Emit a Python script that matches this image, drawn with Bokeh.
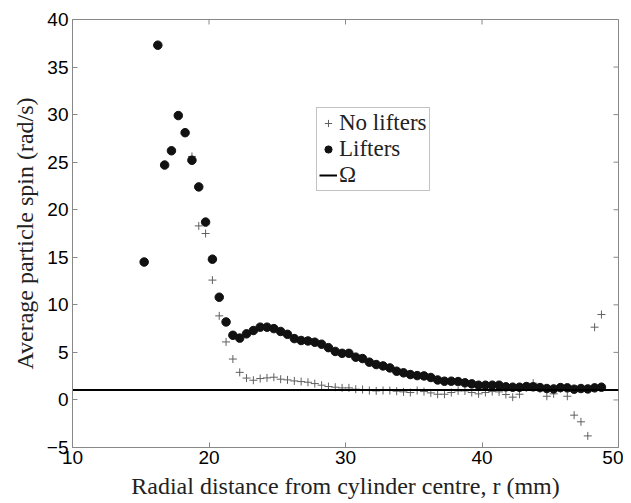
import math
from bokeh.plotting import figure
from bokeh.models import FixedTicker, Legend, LegendItem, Range1d
from bokeh.embed import file_html
from bokeh.resources import INLINE

# ---- data ----
lifters_r = [15.25] + [16.25 + 0.5 * k for k in range(66)]
lifters_spin = [14.5,
                37.3, 24.7, 26.2, 29.9, 28.1, 25.2, 22.4, 18.7, 14.8, 10.8,
                8.2, 6.8, 6.5, 6.95, 7.3, 7.65, 7.65, 7.5, 7.2, 6.9,
                6.45, 6.25, 6.2, 6.07, 5.86, 5.5, 5.1, 4.9, 4.9, 4.5,
                4.35, 3.97, 3.72, 3.58, 3.37, 3.02, 2.85, 2.67, 2.56, 2.53,
                2.36, 2.1, 1.97, 1.97, 1.93, 1.8, 1.69, 1.55, 1.55, 1.55,
                1.55, 1.38, 1.34, 1.34, 1.41, 1.38, 1.3, 1.2, 1.16, 1.3,
                1.27, 1.13, 1.2, 1.16, 1.27, 1.34]

nolift_r = [18.75 + 0.5 * k for k in range(61)]
nolift_spin = [25.6, 18.3, 17.5, 12.6, 8.84, 6.1, 4.3, 2.9, 2.3, 2.07,
               2.25, 2.32, 2.39, 2.18, 2.11, 2.0, 1.93, 1.86, 1.72, 1.55,
               1.41, 1.34, 1.27, 1.27, 1.13, 1.09, 0.99, 0.95, 0.99, 0.99,
               0.92, 0.85, 0.78, 0.99, 0.88, 0.74, 0.6, 0.6, 0.78, 0.95,
               0.95, 0.78, 0.64, 0.78, 0.88, 0.85, 0.57, 0.29, 0.6, 1.3,
               1.76, 1.2, 0.39, 0.64, 1.2, 0.39, -1.6, -2.3, -3.78, 7.65,
               8.98]

omega = 1.047
x_lim = [10, 50]
y_lim = [-5, 40]

x_ticks = [10, 20, 30, 40, 50]
y_ticks = [-5, 0, 5, 10, 15, 20, 25, 30, 35, 40]

SERIF = "Liberation Serif"
SANS = "Liberation Sans"
GRAY = "#888888"

p = figure(width=623, height=501, output_backend="svg", toolbar_location=None,
           x_range=Range1d(*x_lim), y_range=Range1d(*y_lim),
           min_border_left=72, min_border_right=5, min_border_top=19,
           min_border_bottom=54)
p.xgrid.visible = False
p.ygrid.visible = False
p.outline_line_color = GRAY
p.outline_line_width = 1
p.background_fill_color = "white"
p.border_fill_color = "white"

for ax in (p.xaxis[0], p.yaxis[0]):
    ax.major_tick_in = 5
    ax.major_tick_out = 0
    ax.minor_tick_in = 0
    ax.minor_tick_out = 0
    ax.axis_line_color = GRAY
    ax.major_tick_line_color = GRAY
    ax.major_label_text_font = SANS
    ax.major_label_text_font_size = "19px"
    ax.major_label_text_color = "black"
    ax.axis_label_text_font = SERIF
    ax.axis_label_text_font_size = "24px"
    ax.axis_label_text_font_style = "normal"
    ax.axis_label_text_color = "#222222"

p.xaxis[0].ticker = FixedTicker(ticks=x_ticks)
p.yaxis[0].ticker = FixedTicker(ticks=y_ticks)
p.xaxis[0].axis_label = "Radial distance from cylinder centre, r (mm)"
p.yaxis[0].axis_label = "Average particle spin (rad/s)"
p.xaxis[0].major_label_standoff = 3
p.yaxis[0].major_label_standoff = 4
p.xaxis[0].axis_label_standoff = 6
p.yaxis[0].axis_label_standoff = 6

# inward tick marks on the right and top edges of the box (clipped to frame)
p.scatter([x_lim[1]] * len(y_ticks), y_ticks, marker="dash", size=10,
          line_color=GRAY, line_width=1)
p.scatter(x_ticks, [y_lim[1]] * len(x_ticks), marker="dash", size=10,
          angle=math.pi / 2, line_color=GRAY, line_width=1)

r_no = p.scatter(nolift_r, nolift_spin, marker="cross", size=8,
                 line_color="#606060", line_width=1)
r_li = p.scatter(lifters_r, lifters_spin, marker="circle", size=8.5,
                 fill_color="#111111", line_color="#111111")
r_om = p.line(x_lim, [omega, omega], line_color="black", line_width=2)

legend = Legend(items=[LegendItem(label="No lifters", renderers=[r_no]),
                       LegendItem(label="Lifters", renderers=[r_li]),
                       LegendItem(label="\u03a9", renderers=[r_om])],
                location=(244, 256), orientation="vertical")
legend.label_text_font = SERIF
legend.label_text_font_size = "23px"
legend.label_text_color = "#222222"
legend.border_line_color = GRAY
legend.border_line_width = 1
legend.background_fill_alpha = 1
legend.padding = 2
legend.margin = 0
legend.spacing = -2
legend.label_standoff = 2
legend.glyph_width = 18
legend.glyph_height = 20
legend.label_height = 20
p.add_layout(legend, "center")

open("out.html", "w").write(file_html(p, INLINE))
